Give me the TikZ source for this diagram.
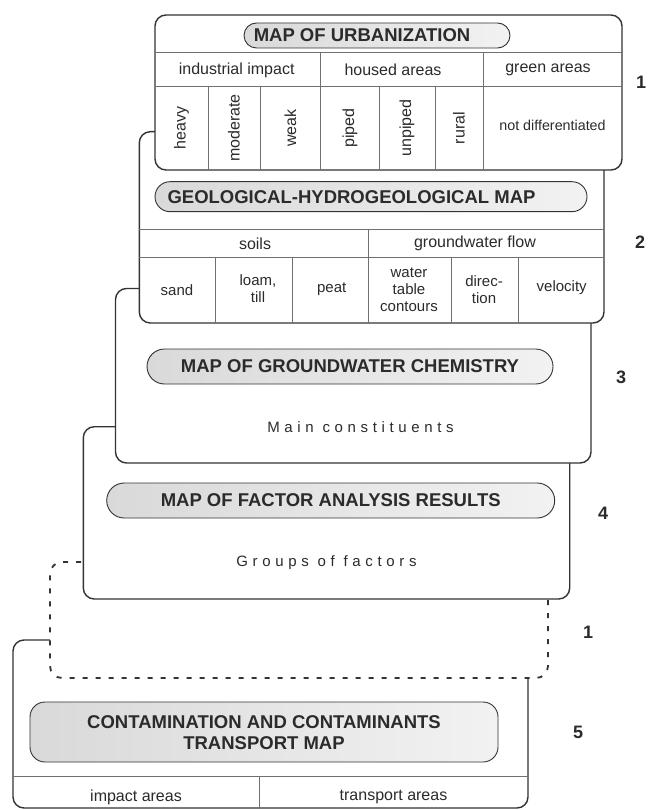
\documentclass[tikz,border=0pt]{standalone}
\usepackage{fontspec}
\setmainfont{Liberation Sans}
\definecolor{linec}{HTML}{333333}
\definecolor{gridc}{HTML}{707070}
\definecolor{txtc}{HTML}{2B2B2B}
\definecolor{pilld}{HTML}{D9D9D9}
\definecolor{pilll}{HTML}{F2F2F2}
\tikzset{
  panel/.style={draw=linec, line width=1.4pt, fill=white, rounded corners=11pt,
    inner sep=0pt, outer sep=0pt, anchor=north west},
  dashpanel/.style={panel, line width=1.8pt, dash pattern=on 5pt off 8pt, rounded corners=12pt},
  pill/.style={draw=linec, line width=0.9pt, left color=pilld, right color=pilll,
    inner sep=0pt, outer sep=0pt},
  ttl/.style={font=\fontsize{18.5}{21.6}\selectfont\bfseries, text=txtc, inner sep=0pt, align=center},
  cell/.style={font=\fontsize{16}{17}\selectfont, text=txtc, inner sep=0pt, align=center},
  smallcell/.style={font=\fontsize{15}{17}\selectfont, text=txtc, inner sep=0pt, align=center},
  vcell/.style={cell, rotate=90},
  gridline/.style={draw=gridc, line width=0.7pt},
  lbl/.style={font=\fontsize{18}{20}\selectfont\bfseries, text=txtc, inner sep=0pt},
  spaced/.style={font=\fontsize{15}{17}\selectfont\addfontfeature{LetterSpace=31}, text=txtc, inner sep=0pt},
}
\begin{document}
\begin{tikzpicture}[x=1pt,y=-1pt]
\useasboundingbox (0,0) rectangle (648,810);
\fill[white] (0,0) rectangle (648,810);

% ---------- panel 5 ----------
\node[panel, minimum width=515pt, minimum height=168pt] (p5) at (13,640) {};
\draw[gridline] (13,776.5) -- (528,776.5);
\draw[gridline] (259,776.5) -- (259,808);
\node[pill, rounded corners=15pt, minimum width=468pt, minimum height=60pt] (t5) at (264,732) {};
\node[ttl] (t5t) at (264,732.5) {CONTAMINATION AND CONTAMINANTS\\TRANSPORT MAP};
\node[cell] (c5a) at (136,797) {impact areas};
\node[cell] (c5b) at (393.5,797) {transport areas};

% ---------- dashed panel ----------
\node[dashpanel, minimum width=498pt, minimum height=116pt] (pd) at (50,562) {};

% ---------- panel 4 ----------
\node[panel, minimum width=486.4pt, minimum height=172.3pt] (p4) at (83.3,426.7) {};
\node[pill, rounded corners=17.5pt, minimum width=448pt, minimum height=35pt] (t4) at (330.7,500.5) {};
\node[ttl] (t4t) at (330.7,500.5) {MAP OF FACTOR ANALYSIS RESULTS};
\node[spaced] (g4) at (326.5,562.5) {Groups of factors};

% ---------- panel 3 ----------
\node[panel, minimum width=475.5pt, minimum height=174.5pt] (p3) at (115.5,288.5) {};
\node[pill, rounded corners=17.5pt, minimum width=406pt, minimum height=35pt] (t3) at (350,366.5) {};
\node[ttl] (t3t) at (350,366) {MAP OF GROUNDWATER CHEMISTRY};
\node[spaced] (m3) at (360.5,427) {Main constituents};

% ---------- panel 2 ----------
\node[panel, minimum width=464.7pt, minimum height=191.3pt] (p2) at (139.3,131.7) {};
\node[pill, rounded corners=15pt, minimum width=432pt, minimum height=30pt] (t2) at (371,196.7) {};
\node[ttl] (t2t) at (351.5,197) {GEOLOGICAL-HYDROGEOLOGICAL MAP};
\draw[gridline] (139.3,229.3) -- (604,229.3);
\draw[gridline] (139.3,257.7) -- (604,257.7);
\draw[gridline] (368.3,229.3) -- (368.3,323);
\foreach \xx in {215,292.3,451,518.3} \draw[gridline] (\xx,257.7) -- (\xx,323);
\node[cell] (soils) at (255,243.5) {soils};
\node[cell] (gwf) at (475,243.5) {groundwater flow};
\node[smallcell] (sand) at (177,290) {sand};
\node[smallcell] (loam) at (258,289) {loam,\\till};
\node[smallcell] (peat) at (331.7,289) {peat};
\node[smallcell] (wtc) at (409,290) {water\\table\\contours};
\node[smallcell] (dir) at (484,290) {direc-\\tion};
\node[smallcell] (vel) at (561.7,288) {velocity};

% ---------- panel 1 ----------
\node[panel, minimum width=467pt, minimum height=155pt] (p1) at (155,15) {};
\node[pill, rounded corners=12.5pt, minimum width=266pt, minimum height=25pt] (t1) at (377,35.5) {};
\node[ttl] (t1t) at (362,35.5) {MAP OF URBANIZATION};
\draw[gridline] (155,52.7) -- (622,52.7);
\draw[gridline] (155,86) -- (622,86);
\foreach \xx in {320.7,483} \draw[gridline] (\xx,52.7) -- (\xx,170);
\foreach \xx in {208.3,260,379.3,435} \draw[gridline] (\xx,86) -- (\xx,170);
\node[cell] (ind) at (236.7,70) {industrial impact};
\node[cell] (hou) at (393,70) {housed areas};
\node[cell] (gre) at (548,70) {green areas};
\node[vcell] (hv) at (181.5,128) {heavy};
\node[vcell] (md) at (234,128) {moderate};
\node[vcell] (wk) at (290.5,128) {weak};
\node[vcell] (pp) at (350,128) {piped};
\node[vcell] (up) at (407,128) {unpiped};
\node[vcell] (ru) at (459,128) {rural};
\node[cell, font=\fontsize{14.3}{16}\selectfont] (nd) at (552.5,125) {not differentiated};

% ---------- labels ----------
\node[lbl] (l1) at (641,82) {1};
\node[lbl] (l2) at (640,242) {2};
\node[lbl] (l3) at (621,377) {3};
\node[lbl] (l4) at (603,513) {4};
\node[lbl] (l1b) at (588,632) {1};
\node[lbl] (l5) at (578,732) {5};
\end{tikzpicture}
\end{document}
